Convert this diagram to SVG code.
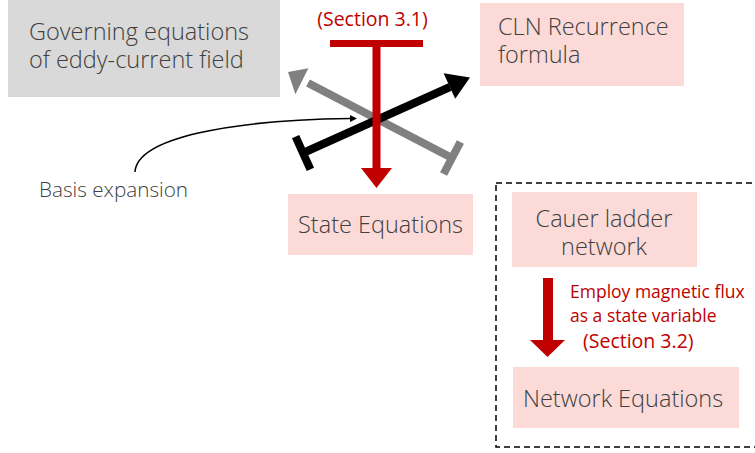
<svg xmlns="http://www.w3.org/2000/svg" width="755" height="453" viewBox="0 0 755 453">
<defs>
<style>
.lbl{font-family:"Open Sans","Liberation Sans",sans-serif;font-weight:300;fill:#404040;font-size:23.5px}
.red{font-family:"Open Sans","Liberation Sans",sans-serif;fill:#C00000;font-size:17.5px}
.sec{font-size:19.5px}
.pink{fill:#FBDAD7}
.gray{fill:#D9D9D9}
</style>
<marker id="ah" viewBox="0 0 10 10" refX="0" refY="5" markerWidth="9" markerHeight="7" markerUnits="userSpaceOnUse" orient="auto"><path d="M0,0 L10,5 L0,10 z" fill="#000"/></marker>
</defs>
<rect width="755" height="453" fill="#fff"/>
<g id="governing"><rect class="gray" x="8" y="0" width="272" height="97"/><text class="lbl" x="29" y="40">Governing equations</text><text class="lbl" x="29" y="68">of eddy-current field</text></g>
<g id="cln"><rect class="pink" x="480" y="3" width="204" height="83"/><text class="lbl" x="498" y="35">CLN Recurrence</text><text class="lbl" x="498" y="63">formula</text></g>
<g id="state"><rect class="pink" x="288" y="194" width="185" height="61"/><text class="lbl" x="298" y="233">State Equations</text></g>
<g id="cluster"><rect x="496" y="183" width="270" height="264" fill="none" stroke="#000" stroke-width="1.5" stroke-dasharray="6,4"/></g>
<g id="cauer"><rect class="pink" x="512" y="192" width="185" height="75"/><text class="lbl" x="604" y="227" text-anchor="middle">Cauer ladder</text><text class="lbl" x="604" y="255" text-anchor="middle">network</text></g>
<g id="network"><rect class="pink" x="513" y="367" width="226" height="61"/><text class="lbl" x="523" y="407">Network Equations</text></g>
<g id="basis"><text class="lbl" x="39" y="197" style="font-size:20.7px">Basis expansion</text></g>
<g id="connectors">
<g id="gray-arrow" fill="#808080" stroke="#808080">
<line x1="452" y1="158" x2="308" y2="83" stroke-width="8"/>
<line x1="460.4" y1="142" x2="443.6" y2="174" stroke-width="8"/>
<polygon points="288,72 308.4,68.2 295.4,94.2" stroke="none"/>
</g>
<g id="black-arrow" fill="#000" stroke="#000">
<line x1="303" y1="153" x2="450" y2="87" stroke-width="8"/>
<line x1="295.6" y1="136.6" x2="310.4" y2="169.4" stroke-width="8"/>
<polygon points="470,77.5 443.6,73.2 455.2,98.8" stroke="none"/>
</g>
<g id="red-arrow-1" fill="#C00000">
<rect x="330" y="40" width="93" height="7"/>
<rect x="372.5" y="46" width="8" height="123"/>
<polygon points="361,168 392,168 376.5,188"/>
</g>
<path d="M135,172 C137,138 230,120 350,118.5" fill="none" stroke="#000" stroke-width="1.5" marker-end="url(#ah)"/>
<g id="red-arrow-2" fill="#C00000">
<rect x="543" y="278" width="10" height="63"/>
<polygon points="530,340 565,340 547.5,357"/>
</g>
</g>
<text class="red sec" x="372.5" y="26" text-anchor="middle">(Section 3.1)</text>
<text class="red" x="570" y="298">Employ magnetic flux</text>
<text class="red" x="570" y="322">as a state variable</text>
<text class="red sec" x="583" y="348">(Section 3.2)</text>
</svg>
